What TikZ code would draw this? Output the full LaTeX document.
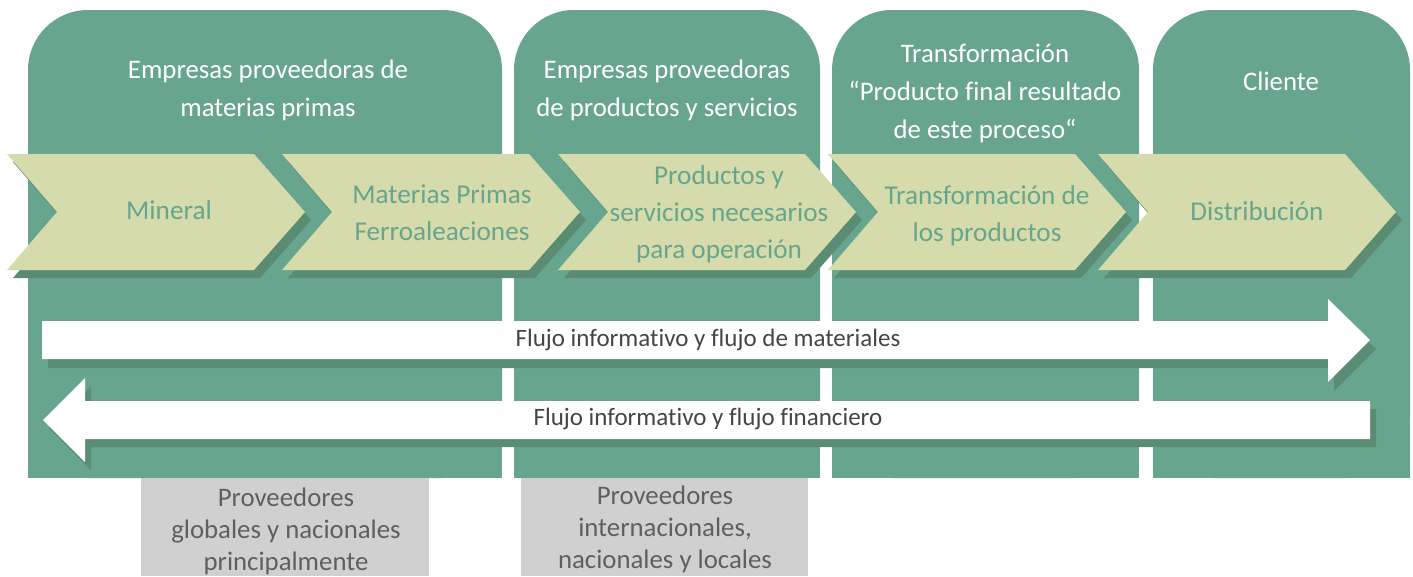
\documentclass[tikz,border=0pt]{standalone}
\usepackage{fontspec}
\setmainfont{Carlito}[Ligatures=NoCommon]
\usepackage{tikz}
\definecolor{colgreen}{HTML}{68A58E}
\definecolor{shadowgreen}{HTML}{5A8C74}
\definecolor{chevfill}{HTML}{D5DBAB}
\definecolor{boxgray}{HTML}{D0D0D0}
\definecolor{textgray}{HTML}{5F5F5F}
\definecolor{flowtext}{HTML}{454545}

\begin{document}
\begin{tikzpicture}
[x=1pt,y=-1pt,
column/.style={fill=colgreen},
shadowpart/.style={fill=shadowgreen},
chevron/.style={fill=chevfill},
flowarrow/.style={fill=white},
heading/.style={text=white,align=center,inner sep=0pt,
font=\fontsize{26.8}{38}\selectfont},
stage/.style={text=colgreen,align=center,inner sep=0pt,
font=\fontsize{27.2}{37}\selectfont},
flowlabel/.style={text=flowtext,inner sep=0pt,
font=\fontsize{25}{30}\selectfont},
supplier/.style={text=textgray,align=center,inner sep=0pt,
font=\fontsize{26.8}{32}\selectfont}]
\useasboundingbox (0,0) rectangle (1413,576);
% columns with rounded tops
\foreach \xa/\xb in {28/502,514/820,832/1139,1153/1410}{
\fill[column,rounded corners=60pt] (\xa,10) rectangle (\xb,478);
\fill[column] (\xa,300) rectangle (\xb,478);
}
% chevrons
\foreach \l in {7,282,558,828,1098}{
\fill[shadowpart,shift={(6,8)}] (\l,154) -- ++(247,0) -- ++(51,58) -- ++(-51,58)
-- ++(-247,0) -- ++(50,-58) -- cycle;
\fill[chevron] (\l,154) -- ++(247,0) -- ++(51,58) -- ++(-51,58)
-- ++(-247,0) -- ++(50,-58) -- cycle;
}
% flow arrows
\fill[shadowpart,shift={(6,9)}] (42,321) -- (1328,321) -- (1328,299) -- (1370,340)
-- (1328,382) -- (1328,359) -- (42,359) -- cycle;
\fill[flowarrow] (42,321) -- (1328,321) -- (1328,299) -- (1370,340)
-- (1328,382) -- (1328,359) -- (42,359) -- cycle;
\fill[shadowpart,shift={(6,8)}] (1370,401) -- (85,401) -- (85,378) -- (43,420)
-- (85,462) -- (85,439) -- (1370,439) -- cycle;
\fill[flowarrow] (1370,401) -- (85,401) -- (85,378) -- (43,420)
-- (85,462) -- (85,439) -- (1370,439) -- cycle;
% supplier boxes
\fill[boxgray] (141,478) rectangle (429,576);
\fill[boxgray] (521,478) rectangle (808,576);

\node at (268,90) [heading] (rawhead) {Empresas proveedoras de\\materias primas};
\node at (667,90) [heading] (servhead) {Empresas proveedoras\\de productos y servicios};
\node at (985,93) [heading] (transhead) {Transformación\\“Producto final resultado\\de este proceso“};
\node at (1281,81) [heading] (clienthead) {Cliente};

\node at (169,210) [stage] (mineral) {Mineral};
\node at (442,213) [stage] (ferro) {Materias Primas\\Ferroaleaciones};
\node at (719,214) [stage] (services) {Productos y\\servicios necesarios\\para operación};
\node at (987,216) [stage] (transform) {Transformación de\\los productos};
\node at (1257,211) [stage] (distrib) {Distribución};

\node at (708,340) [flowlabel] (matflow) {Flujo informativo y flujo de materiales};
\node at (708,419) [flowlabel] (finflow) {Flujo informativo y flujo financiero};

\node at (286,531) [supplier] (globalsup) {Proveedores\\globales y nacionales\\principalmente};
\node at (665,529) [supplier] (localsup) {Proveedores\\internacionales,\\nacionales y locales};
\end{tikzpicture}
\end{document}
